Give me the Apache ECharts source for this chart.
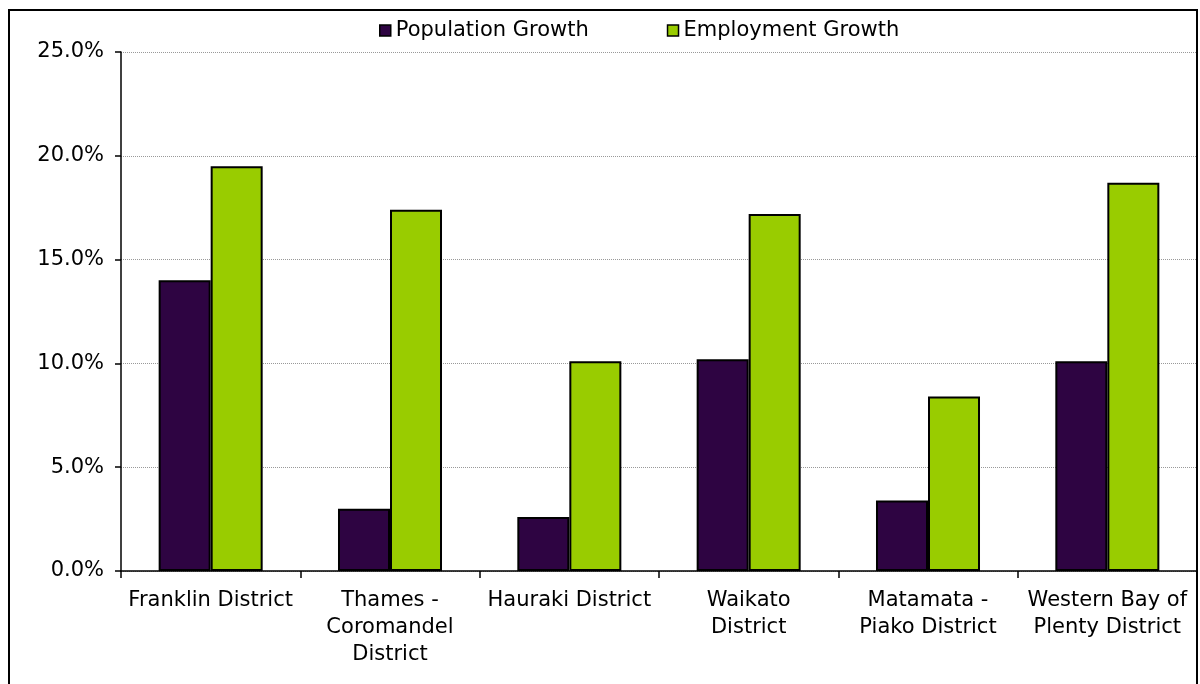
<!DOCTYPE html>
<html>
<head>
<meta charset="utf-8">
<script src="https://cdn.jsdelivr.net/npm/echarts@6/dist/echarts.min.js"></script>
<style>
  html, body { margin: 0; padding: 0; background: #fff; }
  #chart { width: 1200px; height: 684px; }
</style>
</head>
<body>
<div id="chart"></div>
<script>
const districts = [
  'Franklin District',
  'Thames -\nCoromandel\nDistrict',
  'Hauraki District',
  'Waikato\nDistrict',
  'Matamata -\nPiako District',
  'Western Bay of\nPlenty District'
];
const populationGrowth = [14.0, 3.0, 2.6, 10.2, 3.4, 10.1];
const employmentGrowth = [19.5, 17.4, 10.1, 17.2, 8.4, 18.7];
const yTicks = [0, 5, 10, 15, 20, 25];

const font = 'DejaVu Sans, Verdana, sans-serif';
const myChart = echarts.init(document.getElementById('chart'));

const option = {
  backgroundColor: '#fff',
  animation: false,
  graphic: [
    {
      type: 'rect',
      shape: { x: 9, y: 10, width: 1188, height: 720 },
      style: { fill: 'none', stroke: '#000', lineWidth: 2 },
      z: 100
    }
  ],
  legend: {
    data: ['Population Growth', 'Employment Growth'],
    top: 15,
    left: 374,
    itemWidth: 11,
    itemHeight: 11,
    itemGap: 78,
    icon: 'rect',
    textStyle: { fontFamily: font, fontSize: 21, color: '#000' },
    itemStyle: { borderColor: '#000', borderWidth: 1.5 }
  },
  grid: {
    left: 121,
    right: 3,
    top: 52,
    bottom: 113,
    containLabel: false
  },
  xAxis: {
    type: 'category',
    data: districts,
    axisLine: { lineStyle: { color: '#000', width: 1.5 } },
    axisTick: { show: true, length: 7, lineStyle: { color: '#000', width: 1.5 } },
    axisLabel: {
      fontFamily: font,
      fontSize: 21,
      color: '#000',
      margin: 16,
      lineHeight: 27,
      interval: 0
    }
  },
  yAxis: {
    type: 'value',
    min: yTicks[0],
    max: yTicks[yTicks.length - 1],
    interval: 5,
    axisLine: { show: true, lineStyle: { color: '#000', width: 1.5 } },
    axisTick: { show: true, length: 6, lineStyle: { color: '#000', width: 1.5 } },
    axisLabel: {
      fontFamily: font,
      fontSize: 21,
      color: '#000',
      margin: 17,
      formatter: function (v) { return v.toFixed(1) + '%'; }
    },
    splitLine: { lineStyle: { color: '#999', type: [1, 1], width: 1 } }
  },
  series: [
    {
      name: 'Population Growth',
      type: 'bar',
      data: populationGrowth,
      barGap: '0%',
      barCategoryGap: '42%',
      itemStyle: { color: '#2e0442', borderColor: '#000', borderWidth: 2 }
    },
    {
      name: 'Employment Growth',
      type: 'bar',
      data: employmentGrowth,
      barGap: '0%',
      barCategoryGap: '42%',
      itemStyle: { color: '#99cc00', borderColor: '#000', borderWidth: 2 }
    }
  ]
};

myChart.setOption(option);
</script>
</body>
</html>
